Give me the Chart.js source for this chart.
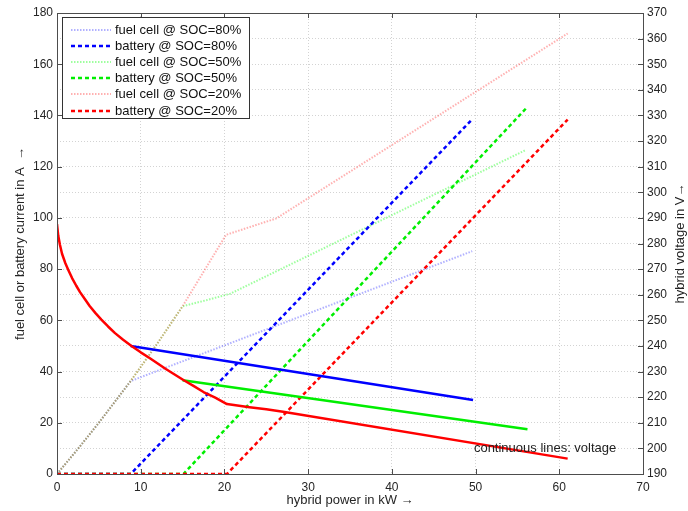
<!DOCTYPE html>
<html>
<head>
<meta charset="utf-8">
<script src="https://cdn.jsdelivr.net/npm/chart.js@4"></script>
<style>
html, body { margin: 0; padding: 0; background: #fff; }
canvas { display: block; }
</style>
</head>
<body>
<canvas id="chart" width="688" height="511"></canvas>
<script>
// fuel cell current in A over hybrid power in kW
const fc80X = [0, 2.5, 5, 8.8, 49.6];
const fc80Y = [0, 9.8, 20, 36.3, 87];
const fc50X = [0, 2.5, 5, 8.8, 12, 15, 18, 20.7, 56];
const fc50Y = [0, 9.8, 20, 36.3, 51, 65.5, 68, 70.4, 126.5];
const fc20X = [0, 2.5, 5, 8.8, 12, 15, 20.2, 26.2, 61];
const fc20Y = [0, 9.8, 20, 36.3, 51, 65.5, 93.4, 99.8, 172];

// battery current in A
const bat80X = [0, 8.8, 49.6];
const bat80Y = [0, 0, 138.5];
const bat50X = [0, 15.1, 56.1];
const bat50Y = [0, 0, 143];
const bat20X = [0, 20.3, 61];
const bat20Y = [0, 0, 138.4];

// hybrid voltage in V (right axis)
const v80X = [8.8, 49.7];
const v80Y = [240, 218.9];
const v50X = [15, 56.2];
const v50Y = [226.6, 207.5];
const v20X = [0, 0.15, 0.35, 0.6, 1, 1.35, 1.8, 2.3, 2.75, 3.3, 3.9, 4.6, 5.3, 6.1, 6.93, 7.9, 8.9,
  10, 11.1, 13, 15.1, 16.3, 17.5, 18.9, 20.3, 23, 25, 27, 61];
const v20Y = [287.6, 283, 279.5, 276, 272.3, 269.7, 266.5, 263.5, 261, 258.4, 255.6, 252.8, 250.3, 247.6, 245, 242.4, 240,
  237.5, 235.2, 231, 226.7, 224.4, 222, 219.8, 217.3, 216.1, 215.3, 214.3, 196];

const xTicks = [0, 70, 10];
const yTicks = [0, 180, 20];
const y2Ticks = [190, 370, 10];

const font = '"Liberation Sans", Arial, Helvetica, sans-serif';
Chart.defaults.font.family = font;
Chart.defaults.color = '#262626';

function zip(xs, ys) {
  return xs.map((x, i) => ({ x: x, y: ys[i] }));
}

function fuelCell(label, xs, ys, color, order) {
  return { label: label, data: zip(xs, ys), borderColor: color, borderWidth: 2,
    borderDash: [1.5, 1.5], yAxisID: 'y', order: order, legend: true };
}
function battery(label, xs, ys, color, order) {
  return { label: label, data: zip(xs, ys), borderColor: color, borderWidth: 2.5,
    borderDash: [4, 3], yAxisID: 'y', order: order, legend: true };
}
function voltage(label, xs, ys, color, order) {
  return { label: label, data: zip(xs, ys), borderColor: color, borderWidth: 2.5,
    yAxisID: 'y2', order: order };
}

const datasets = [
  fuelCell('fuel cell @ SOC=80%', fc80X, fc80Y, 'rgba(60,60,255,0.4)', 9),
  battery('battery @ SOC=80%', bat80X, bat80Y, '#0000ff', 6),
  fuelCell('fuel cell @ SOC=50%', fc50X, fc50Y, 'rgba(40,255,40,0.45)', 8),
  battery('battery @ SOC=50%', bat50X, bat50Y, '#00ee00', 5),
  fuelCell('fuel cell @ SOC=20%', fc20X, fc20Y, 'rgba(255,60,60,0.4)', 7),
  battery('battery @ SOC=20%', bat20X, bat20Y, '#ff0000', 4),
  voltage('voltage @ SOC=80%', v80X, v80Y, '#0000ff', 3),
  voltage('voltage @ SOC=50%', v50X, v50Y, '#00ee00', 2),
  voltage('voltage @ SOC=20%', v20X, v20Y, '#ff0000', 1)
];

// box, inward ticks, right title, legend and note, drawn over the lines
const matlabFrame = {
  id: 'matlabFrame',
  afterDatasetsDraw(chart) {
    const ctx = chart.ctx;
    const a = chart.chartArea;
    const sx = chart.scales.x, sy = chart.scales.y, sy2 = chart.scales.y2;
    ctx.save();
    ctx.strokeStyle = '#4d4d4d';
    ctx.lineWidth = 1;
    ctx.beginPath();
    sx.ticks.forEach(t => {
      const px = Math.round(sx.getPixelForValue(t.value)) + 0.5;
      ctx.moveTo(px, a.bottom); ctx.lineTo(px, a.bottom - 5);
      ctx.moveTo(px, a.top); ctx.lineTo(px, a.top + 5);
    });
    sy.ticks.forEach(t => {
      const py = Math.round(sy.getPixelForValue(t.value)) + 0.5;
      ctx.moveTo(a.left, py); ctx.lineTo(a.left + 5, py);
    });
    sy2.ticks.forEach(t => {
      const py = Math.round(sy2.getPixelForValue(t.value)) + 0.5;
      ctx.moveTo(a.right, py); ctx.lineTo(a.right - 5, py);
    });
    ctx.stroke();
    ctx.strokeRect(Math.round(a.left) + 0.5, Math.round(a.top) + 0.5,
      Math.round(a.right - a.left), Math.round(a.bottom - a.top));

    ctx.font = '13px ' + font;
    ctx.fillStyle = '#222';
    ctx.textBaseline = 'middle';

    // right axis title, reading upwards
    ctx.save();
    ctx.translate(680, (a.top + a.bottom) / 2);
    ctx.rotate(-Math.PI / 2);
    ctx.textAlign = 'center';
    ctx.fillText('hybrid voltage in V\u2192', 0, 0);
    ctx.restore();

    // note
    ctx.fillText('continuous lines: voltage', sx.getPixelForValue(49.8), sy.getPixelForValue(9.8));

    // legend
    const items = chart.data.datasets.filter(d => d.legend);
    const x0 = a.left + 5.5, y0 = a.top + 4.5, w = 187, h = 101;
    ctx.fillStyle = '#fff';
    ctx.fillRect(x0, y0, w, h);
    ctx.strokeStyle = '#333';
    ctx.lineWidth = 1;
    ctx.strokeRect(x0, y0, w, h);
    items.forEach((d, i) => {
      const y = Math.round(y0 + 12 + i * 16.2);
      ctx.strokeStyle = d.borderColor;
      ctx.lineWidth = d.borderWidth;
      ctx.setLineDash(d.borderDash);
      ctx.beginPath();
      ctx.moveTo(x0 + 8.5, y); ctx.lineTo(x0 + 48.5, y);
      ctx.stroke();
      ctx.setLineDash([]);
      ctx.fillStyle = '#111';
      ctx.fillText(d.label, x0 + 52.5, y);
    });
    ctx.restore();
  }
};

const gridStyle = { color: '#d3d3d3', lineWidth: 1, drawTicks: false };
const borderStyle = { display: false, dash: [1, 2] };

new Chart(document.getElementById('chart'), {
  type: 'line',
  data: { datasets: datasets },
  options: {
    responsive: false,
    animation: false,
    layout: { padding: { top: 13 } },
    elements: { point: { radius: 0 }, line: { tension: 0, borderCapStyle: 'butt', borderJoinStyle: 'round' } },
    plugins: { legend: { display: false }, tooltip: { enabled: false } },
    scales: {
      x: {
        type: 'linear', min: xTicks[0], max: xTicks[1],
        ticks: { stepSize: xTicks[2], padding: 6, autoSkip: false, maxRotation: 0, font: { size: 12 } },
        grid: gridStyle, border: borderStyle,
        title: { display: true, text: 'hybrid power in kW \u2192', font: { size: 13 }, padding: { top: 0, bottom: 3 } },
        afterFit: s => { s.height = 37; }
      },
      y: {
        type: 'linear', position: 'left', min: yTicks[0], max: yTicks[1],
        ticks: { stepSize: yTicks[2], padding: 4, autoSkip: false, font: { size: 12 } },
        grid: { display: false, drawTicks: false }, border: { display: false },
        title: { display: true, text: 'fuel cell or battery current in A  \u2192', font: { size: 13 }, padding: { top: 13, bottom: 0 } },
        afterFit: s => { s.width = 57; }
      },
      y2: {
        type: 'linear', position: 'right', min: y2Ticks[0], max: y2Ticks[1],
        ticks: { stepSize: y2Ticks[2], padding: 4, autoSkip: false, font: { size: 12 } },
        grid: gridStyle, border: borderStyle,
        afterFit: s => { s.width = 45; }
      }
    }
  },
  plugins: [matlabFrame]
});
</script>
</body>
</html>
